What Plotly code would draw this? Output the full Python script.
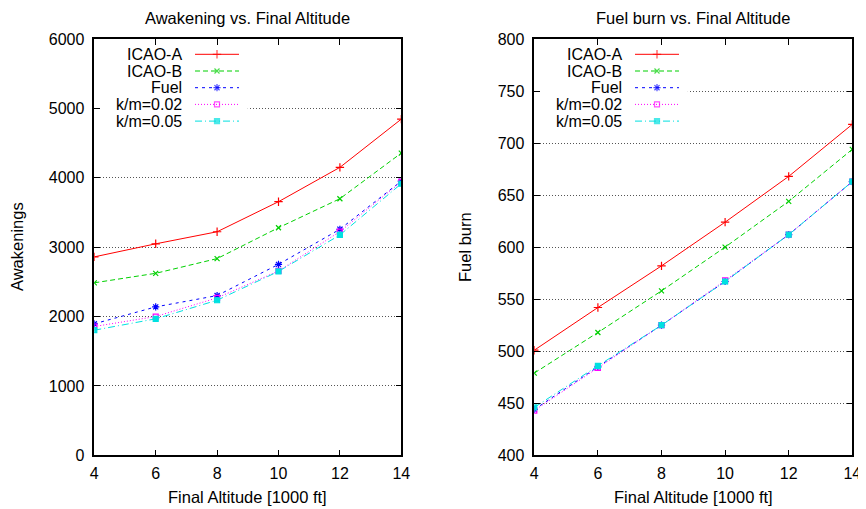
import plotly.graph_objects as go

# ---------------- data ----------------
altitude = [4, 6, 8, 10, 12, 14]
series_names = ["ICAO-A", "ICAO-B", "Fuel", "k/m=0.02", "k/m=0.05"]

awak_icao_a = [2860, 3048, 3222, 3655, 4150, 4845]
awak_icao_b = [2486, 2623, 2835, 3280, 3698, 4356]
awak_fuel = [1895, 2139, 2302, 2752, 3258, 3952]
awak_km002 = [1856, 2000, 2269, 2657, 3224, 3942]
awak_km005 = [1803, 1967, 2235, 2650, 3176, 3914]

fuel_icao_a = [501, 542, 582, 624, 668, 718]
fuel_icao_b = [479, 518, 558, 600, 644, 694]
fuel_fuel = [444, 485, 525, 567, 612, 663]
fuel_km002 = [443, 484, 525, 568, 612, 663]
fuel_km005 = [446, 486, 525, 567, 612, 663]

x_ticks = [4, 6, 8, 10, 12, 14]
awak_ticks = [0, 1000, 2000, 3000, 4000, 5000, 6000]
fuel_ticks = [400, 450, 500, 550, 600, 650, 700, 750, 800]

# ---------------- geometry (page has an 8px body margin) ----------------
VW, VH = 866, 509          # viewport
OFF = 8                    # body margin of the html page
W, H = VW - OFF, VH - OFF  # figure size that fits the viewport
FONT = "Liberation Sans, Arial, Helvetica, sans-serif"


def px(xp):
    """viewport pixel x -> paper fraction"""
    return (xp - OFF) / W


def py(yp):
    """viewport pixel y -> paper fraction"""
    return 1 - (yp - OFF) / H


styles = [
    dict(color="#ff0000", dash="solid", symbol="cross-thin", size=6),
    dict(color="#00d000", dash="5px,3px", symbol="x-thin", size=5),
    dict(color="#0000ff", dash="3px,4px", symbol="asterisk", size=6),
    dict(color="#ff00ff", dash="1px,2px", symbol="square-open", size=5),
    dict(color="#00e0e0", dash="7px,3px,1px,3px", symbol="square", size=5),
]

fig = go.Figure()

left_sets = [awak_icao_a, awak_icao_b, awak_fuel, awak_km002, awak_km005]
right_sets = [fuel_icao_a, fuel_icao_b, fuel_fuel, fuel_km002, fuel_km005]


def marker_of(st, size=None):
    return dict(symbol=st["symbol"], size=st["size"] if size is None else size,
                color=st["color"], line=dict(color=st["color"], width=1.2))


for name, vals, st in zip(series_names, left_sets, styles):
    fig.add_trace(go.Scatter(x=altitude, y=vals, name=name, mode="lines+markers",
                             line=dict(color=st["color"], dash=st["dash"], width=1),
                             marker=marker_of(st), xaxis="x", yaxis="y",
                             showlegend=False))
for name, vals, st in zip(series_names, right_sets, styles):
    fig.add_trace(go.Scatter(x=altitude, y=vals, name=name, mode="lines+markers",
                             line=dict(color=st["color"], dash=st["dash"], width=1),
                             marker=marker_of(st), xaxis="x2", yaxis="y2",
                             showlegend=False))

# ---------------- manual gnuplot-style keys (pixel overlay axes) ----------------
row_y = [54.3, 71.0, 87.7, 104.4, 121.1]
annotations = []
for off in (0, 440):
    for name, st, ry in zip(series_names, styles, row_y):
        x0, x1 = 195 + off, 239 + off
        xm = (x0 + x1) / 2
        fig.add_trace(go.Scatter(x=[x0, xm, x1], y=[ry, ry, ry], mode="lines+markers",
                                 line=dict(color=st["color"], dash=st["dash"], width=1),
                                 marker=marker_of(st, [0, st["size"], 0]),
                                 xaxis="x3", yaxis="y3", showlegend=False,
                                 hoverinfo="skip"))
        annotations.append(dict(x=184 + off, y=ry, xref="x3", yref="y3", text=name,
                                showarrow=False, xanchor="right", yanchor="middle",
                                font=dict(family=FONT, size=16, color="black")))

for txt, xc in (("Awakening vs. Final Altitude", 247.7), ("Fuel burn vs. Final Altitude", 693.0)):
    annotations.append(dict(x=px(xc), y=1.0, xref="paper", yref="paper", text=txt,
                            showarrow=False, xanchor="center", yanchor="top",
                            borderpad=0,
                            font=dict(family=FONT, size=16.5, color="black")))
for xc in (247.7, 693.0):
    annotations.append(dict(x=px(xc), y=py(497), xref="paper", yref="paper",
                            text="Final Altitude [1000 ft]", showarrow=False,
                            xanchor="center", yanchor="middle",
                            font=dict(family=FONT, size=16.5, color="black")))
for txt, xc in (("Awakenings", 17), ("Fuel burn", 465)):
    annotations.append(dict(x=px(xc), y=py(247), xref="paper", yref="paper", text=txt,
                            showarrow=False, xanchor="center", yanchor="middle",
                            textangle=-90,
                            font=dict(family=FONT, size=16.5, color="black")))

# opaque key boxes (cover grid lines)
shapes = [
    dict(type="rect", xref="x", yref="y", x0=4.15, x1=9.0, y0=4690, y1=5960,
         fillcolor="white", line=dict(width=0), layer="between"),
    dict(type="rect", xref="x2", yref="y2", x0=4.15, x1=8.83, y0=712, y1=797,
         fillcolor="white", line=dict(width=0), layer="between"),
]

axis_common = dict(showline=True, linecolor="black", linewidth=1.5, mirror="ticks",
                   ticks="inside", ticklen=6, tickwidth=1.2, tickcolor="black",
                   zeroline=False, automargin=False,
                   tickfont=dict(family=FONT, size=16, color="black"))
grid_on = dict(showgrid=True, gridcolor="#555555", griddash="1px,2px", gridwidth=1)
hidden = dict(domain=[0, 1], visible=False, fixedrange=True, automargin=False,
              showticklabels=False, showgrid=False, zeroline=False)

fig.update_layout(
    width=W, height=H,
    margin=dict(l=0, r=0, t=0, b=0, pad=0, autoexpand=False),
    paper_bgcolor="white", plot_bgcolor="rgba(0,0,0,0)",
    showlegend=False,
    xaxis=dict(domain=[px(94.3), px(401.3)], range=[4, 14], tickvals=x_ticks,
               anchor="y", showgrid=False, ticklabelstandoff=3, **axis_common),
    yaxis=dict(domain=[py(455.3), py(39)], range=[0, 6000], tickvals=awak_ticks,
               anchor="x", ticklabelstandoff=5, **grid_on, **axis_common),
    xaxis2=dict(domain=[px(534.3), px(852.3)], range=[4, 14], tickvals=x_ticks,
                anchor="y2", showgrid=False, ticklabelstandoff=3, **axis_common),
    yaxis2=dict(domain=[py(455.3), py(39)], range=[400, 800], tickvals=fuel_ticks,
                anchor="x2", ticklabelstandoff=5, **grid_on, **axis_common),
    xaxis3=dict(range=[OFF, VW], anchor="y3", **hidden),
    yaxis3=dict(range=[VH, OFF], anchor="x3", **hidden),
    annotations=annotations,
    shapes=shapes,
)

fig.write_html("out.html")
